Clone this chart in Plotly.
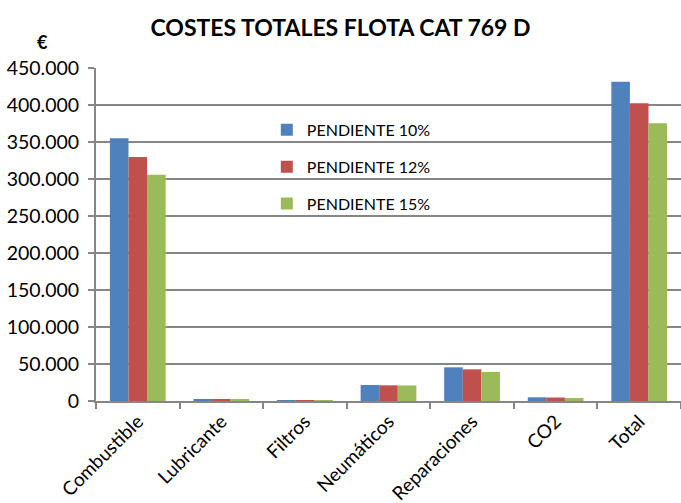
import plotly.graph_objects as go

categories = ["Combustible", "Lubricante", "Filtros", "Neumáticos", "Reparaciones", "CO2", "Total"]
series_names = ["PENDIENTE 10%", "PENDIENTE 12%", "PENDIENTE 15%"]
pend10 = [355000, 2500, 600, 21600, 45500, 5000, 431500]
pend12 = [329600, 2300, 600, 21200, 42800, 4700, 402200]
pend15 = [305700, 2100, 600, 21000, 39200, 4000, 375200]
colors = ["#4F81BD", "#C0504D", "#9BBB59"]
y_ticks = [0, 50000, 100000, 150000, 200000, 250000, 300000, 350000, 400000, 450000]
y_ticktext = ["0", "50.000", "100.000", "150.000", "200.000", "250.000", "300.000", "350.000", "400.000", "450.000"]

FONT = "Lato"
fig = go.Figure()
for i, (name, vals) in enumerate(zip(series_names, [pend10, pend12, pend15])):
    fig.add_trace(go.Bar(x=categories, y=vals, name=name, marker_color=colors[i],
                         marker_line_width=0, legendgroup=str(i)))

fig.update_layout(
    width=681, height=503,
    margin=dict(l=96, r=0, t=68, b=102),
    paper_bgcolor="white", plot_bgcolor="white",
    barmode="group", bargap=0.333, bargroupgap=0,
    font=dict(family=FONT, color="black"),
    title=dict(text="<b>COSTES TOTALES FLOTA CAT 769 D</b>", x=0.5, xanchor="center",
               y=0.945, yanchor="middle", font=dict(family=FONT, size=23, color="black")),
    showlegend=True,
    legend=dict(x=0.292, y=0.865, xanchor="left", yanchor="top", bgcolor="rgba(0,0,0,0)",
                font=dict(family=FONT, size=16, color="black"), tracegroupgap=13,
                itemwidth=30),
    annotations=[dict(text="<b>€</b>", x=(42 - 96) / 585, y=(401 - 42) / 333,
                      xref="paper", yref="paper", xanchor="center", yanchor="middle",
                      showarrow=False, font=dict(family=FONT, size=18, color="black"))],
)

fig.update_yaxes(range=[0, 450000], tickvals=y_ticks, ticktext=y_ticktext,
                 showgrid=True, gridcolor="#868686", gridwidth=1.5,
                 showline=True, linecolor="#868686", linewidth=2,
                 ticks="outside", ticklen=6, tickcolor="#868686", tickwidth=2,
                 ticklabelstandoff=5,
                 tickfont=dict(family=FONT, size=19.5, color="black"), zeroline=False)
fig.update_xaxes(showline=True, linecolor="#868686", linewidth=2,
                 ticks="outside", ticklen=6, tickcolor="#868686", tickwidth=2,
                 tickson="boundaries", tickangle=-45,
                 tickfont=dict(family=FONT, size=19, color="black"))

fig.write_html("out.html")
